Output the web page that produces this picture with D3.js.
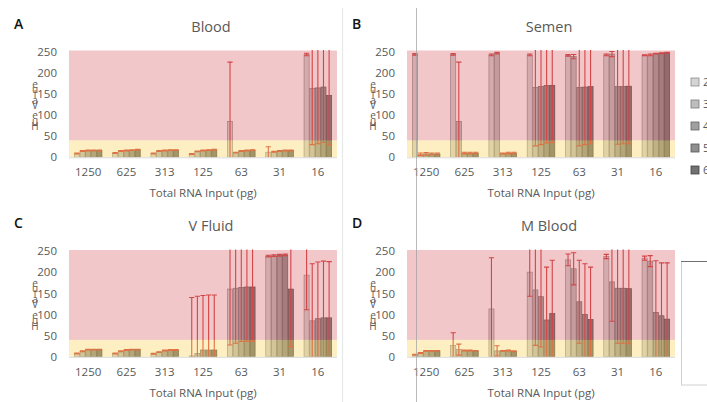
<!DOCTYPE html>
<html>
<head>
<meta charset="utf-8">
<script src="https://cdn.jsdelivr.net/npm/d3@7/dist/d3.min.js"></script>
<style>
  html, body { margin: 0; padding: 0; background: #fff; }
  svg { display: block; font-family: "Open Sans", "Liberation Sans", sans-serif; }
</style>
</head>
<body>
<svg id="chart" width="707" height="402"></svg>
<script>
// RNA input amounts (pg) along the x axis
const categories = ["1250", "625", "313", "125", "63", "31", "16"];
// five replicate series per input amount
const seriesLabels = ["2", "3", "4", "5", "6"];
const yTickValues = [0, 50, 100, 150, 200, 250];
const panelTitles = ["Blood", "Semen", "V Fluid", "M Blood"];
const panelLetters = ["A", "B", "C", "D"];

// mean values, one row per input amount, one column per series
const bloodMean = [
  [9, 15, 16, 16, 16],
  [10, 15, 16, 17, 18],
  [9, 15, 16, 17, 17],
  [8, 14, 16, 17, 18],
  [85, 11, 15, 16, 17],
  [12, 13, 15, 16, 16],
  [243, 163, 164, 166, 146]
];
const bloodErr = [
  [1, 1, 1, 1, 1],
  [1, 1, 1, 1, 1],
  [1, 1, 1, 1, 1],
  [1, 1, 1, 1, 1],
  [140, 1, 1, 1, 1],
  [13, 1, 1, 1, 1],
  [3, 133, 132, 131, 116]
];

const semenMean = [
  [243, 7, 8, 8, 8],
  [243, 85, 10, 10, 10],
  [242, 246, 9, 10, 10],
  [242, 165, 167, 170, 170],
  [241, 238, 165, 166, 167],
  [242, 244, 167, 167, 168],
  [241, 242, 245, 246, 247]
];
const semenErr = [
  [2, 3, 3, 2, 2],
  [2, 140, 2, 2, 2],
  [2, 2, 1, 2, 2],
  [2, 138, 137, 136, 135],
  [2, 5, 138, 136, 135],
  [2, 6, 136, 135, 136],
  [1, 2, 1, 1, 1]
];

const vfluidMean = [
  [8, 13, 17, 17, 17],
  [8, 13, 16, 17, 17],
  [7, 11, 15, 16, 16],
  [2, 8, 16, 16, 16],
  [160, 162, 164, 165, 165],
  [238, 239, 240, 241, 160],
  [193, 85, 90, 92, 92]
];
const vfluidErr = [
  [1, 1, 1, 1, 1],
  [1, 1, 1, 1, 1],
  [1, 1, 1, 1, 1],
  [138, 135, 129, 130, 130],
  [132, 130, 128, 128, 128],
  [2, 2, 2, 2, 136],
  [82, 135, 134, 134, 133]
];

const mbloodMean = [
  [5, 9, 14, 14, 14],
  [27, 17, 15, 15, 14],
  [113, 14, 14, 15, 13],
  [200, 158, 142, 87, 102],
  [229, 208, 130, 100, 88],
  [237, 177, 162, 162, 161],
  [233, 226, 105, 97, 89]
];
const mbloodErr = [
  [1, 1, 1, 1, 1],
  [30, 13, 1, 1, 1],
  [121, 12, 1, 1, 1],
  [57, 131, 119, 125, 126],
  [14, 38, 98, 120, 124],
  [5, 93, 130, 130, 130],
  [5, 13, 122, 125, 133]
];

// threshold separating the low (yellow) and high (pink) zones
const zoneBreak = 40;

const panelMeans = [bloodMean, semenMean, vfluidMean, mbloodMean];
const panelErrs = [bloodErr, semenErr, vfluidErr, mbloodErr];

const svg = d3.select("#chart");
const seriesFill = d3.scaleOrdinal().domain(seriesLabels)
  .range(["#d4d4d4", "#bdbdbd", "#a0a0a0", "#8e8e8e", "#727272"]);
const seriesStroke = d3.scaleOrdinal().domain(seriesLabels)
  .range(["#8c8c8c", "#7c7c7c", "#636363", "#565656", "#424242"]);

const textGrey = "#595959";
const plotW = 268, plotH = 105.8;
const panelOrigins = [
  { x: 69, y: 51.5 },
  { x: 407, y: 51.5 },
  { x: 69, y: 251 },
  { x: 407, y: 251 }
];

// panel separators
svg.append("line").attr("x1", 342.5).attr("x2", 342.5).attr("y1", 8).attr("y2", 402)
  .attr("stroke", "#e8e8e8").attr("stroke-width", 1.2);

panelOrigins.forEach((o, pi) => {
  const g = svg.append("g").attr("transform", `translate(${o.x},${o.y})`);
  const means = panelMeans[pi], errs = panelErrs[pi];

  const x0 = d3.scaleBand().domain(categories).range([0, plotW])
    .paddingInner(0.25).paddingOuter(0.125);
  const x1 = d3.scaleBand().domain(seriesLabels).range([0, x0.bandwidth()]).padding(0.1);
  const y = d3.scaleLinear().domain([0, 250]).range([plotH, 0]);

  const clipId = "clip" + pi;
  g.append("clipPath").attr("id", clipId)
    .append("rect").attr("x", 0).attr("y", -1.5).attr("width", plotW).attr("height", plotH + 1.5);

  const rows = categories.map((c, ci) => ({
    cat: c,
    items: seriesLabels.map((s, si) => ({ s, v: means[ci][si], e: errs[ci][si] }))
  }));

  const groups = g.append("g").attr("clip-path", `url(#${clipId})`)
    .selectAll("g.grp").data(rows).join("g")
    .attr("class", "grp")
    .attr("transform", d => `translate(${x0(d.cat)},0)`);

  // bars
  groups.selectAll("rect").data(d => d.items).join("rect")
    .attr("x", d => x1(d.s))
    .attr("y", d => y(d.v))
    .attr("width", x1.bandwidth())
    .attr("height", d => y(0) - y(d.v))
    .attr("fill", d => seriesFill(d.s))
    .attr("stroke", d => seriesStroke(d.s))
    .attr("stroke-width", 0.7);

  // error bars
  const eb = groups.selectAll("g.eb").data(d => d.items).join("g").attr("class", "eb")
    .attr("stroke", "#d23a3a").attr("stroke-width", 1.1);
  const cx = d => x1(d.s) + x1.bandwidth() / 2;
  eb.append("line")
    .attr("x1", cx).attr("x2", cx)
    .attr("y1", d => y(Math.max(0, d.v - d.e)))
    .attr("y2", d => y(d.v + d.e));
  eb.append("line")
    .attr("x1", d => cx(d) - 2.6).attr("x2", d => cx(d) + 2.6)
    .attr("y1", d => y(d.v + d.e)).attr("y2", d => y(d.v + d.e));
  eb.filter(d => d.v - d.e > 0).append("line")
    .attr("x1", d => cx(d) - 2.6).attr("x2", d => cx(d) + 2.6)
    .attr("y1", d => y(d.v - d.e)).attr("y2", d => y(d.v - d.e));

  // translucent zone overlays
  g.append("rect").attr("x", 0).attr("y", y(250) - 1).attr("width", plotW)
    .attr("height", y(zoneBreak) - y(250) + 1)
    .attr("fill", "rgb(214,92,98)").attr("opacity", 0.34);
  g.append("rect").attr("x", 0).attr("y", y(zoneBreak)).attr("width", plotW)
    .attr("height", y(0) - y(zoneBreak))
    .attr("fill", "rgb(250,212,84)").attr("opacity", 0.36);

  // baseline
  g.append("line").attr("x1", 0).attr("x2", plotW).attr("y1", y(0) + 0.5).attr("y2", y(0) + 0.5)
    .attr("stroke", "#d9d9d9");

  // y axis (labels only)
  const ya = g.append("g").attr("transform", "translate(-6,0)")
    .call(d3.axisLeft(y).tickValues(yTickValues).tickSize(0).tickPadding(6));
  ya.select(".domain").remove();
  ya.selectAll("text").attr("fill", textGrey).style("font-size", "11.5px")
    .style("font-family", "'Open Sans', sans-serif");

  // x axis (labels only)
  const xa = g.append("g").attr("transform", `translate(0,${plotH})`)
    .call(d3.axisBottom(x0).tickSize(0).tickPadding(11));
  xa.select(".domain").remove();
  xa.selectAll("text").attr("fill", textGrey).style("font-size", "11.5px")
    .style("font-family", "'Open Sans', sans-serif");

  // axis titles
  g.append("text").attr("x", plotW / 2).attr("y", plotH + 40)
    .attr("text-anchor", "middle").attr("fill", textGrey).style("font-size", "11.5px")
    .text("Total RNA Input (pg)");

  // stacked y-axis title letters, reading bottom to top
  const yTitle = "Hue Value".split("");
  const stepY = 5.3;
  g.append("text").attr("fill", textGrey).style("font-size", "10px")
    .attr("text-anchor", "middle")
    .selectAll("tspan").data(yTitle).join("tspan")
    .attr("x", -34)
    .attr("y", (d, i) => 78.5 - i * stepY)
    .text(d => d);

  // panel title and letter
  g.append("text").attr("x", plotW / 2 + 8).attr("y", -20)
    .attr("text-anchor", "middle").attr("fill", textGrey).style("font-size", "14.5px")
    .text(panelTitles[pi]);
  g.append("text").attr("x", -55).attr("y", -23)
    .attr("fill", "#111").style("font-size", "14px").style("font-weight", "600")
    .text(panelLetters[pi]);
});

// long vertical rule
svg.append("line").attr("x1", 416.5).attr("x2", 416.5).attr("y1", 8).attr("y2", 402)
  .attr("stroke", "#a0a0a0").attr("stroke-width", 0.9).attr("opacity", 0.8);

// legend (partly off the right edge)
const legend = svg.append("g").selectAll("g").data(seriesLabels).join("g")
  .attr("transform", (d, i) => `translate(691,${78 + i * 22})`);
legend.append("rect").attr("width", 8).attr("height", 8)
  .attr("fill", d => seriesFill(d)).attr("stroke", d => seriesStroke(d)).attr("stroke-width", 0.8);
legend.append("text").attr("x", 12).attr("y", 8).attr("fill", textGrey)
  .style("font-size", "11px").text(d => d);

// empty box at lower right
svg.append("rect").attr("x", 681.5).attr("y", 261.5).attr("width", 40).attr("height", 123.5)
  .attr("fill", "#fff").attr("stroke", "#d0d0d0");
svg.append("line").attr("x1", 681).attr("x2", 707).attr("y1", 261.5).attr("y2", 261.5)
  .attr("stroke", "#707070");
</script>
</body>
</html>
